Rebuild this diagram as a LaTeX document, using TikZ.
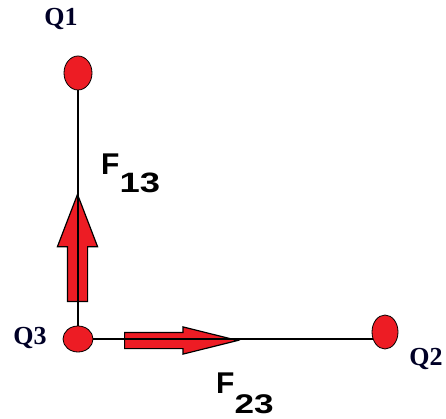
\documentclass[tikz,border=0pt]{standalone}
\usepackage{fontspec}
\setmainfont{Liberation Serif}
\newfontfamily\forcefont{Liberation Sans}
\usetikzlibrary{shapes.geometric, shapes.arrows, positioning}

\definecolor{chargered}{RGB}{237,28,36}

\begin{document}
\begin{tikzpicture}[
    x=1pt, y=-1pt,
    charge/.style={ellipse, draw=black, line width=0.8pt, fill=chargered, inner sep=0pt},
    qlabel/.style={font=\fontsize{26}{26}\selectfont\bfseries, text=black!85!blue, inner sep=0pt},
    flabel/.style={font=\forcefont\fontsize{30}{30}\selectfont\bfseries, inner sep=0pt, anchor=base west},
    force/.style={single arrow, draw=black, line width=1.2pt, fill=chargered, inner xsep=0pt, single arrow head indent=0pt, anchor=tail},
    wire/.style={line width=2.2pt}
]
\useasboundingbox (0,0) rectangle (446,419);

% Force arrows
\node[force, inner ysep=9.5pt, single arrow head extend=10pt, single arrow tip angle=42,
      minimum height=107pt, rotate=90] (f13arrow) at (77.5,302) {};
\node[force, inner ysep=7.5pt, single arrow head extend=5.5pt, single arrow tip angle=28,
      minimum height=113pt] (f23arrow) at (124,340.5) {};

% Charges
\node[charge, minimum width=28pt, minimum height=34pt] (q1) at (78,73) {};
\node[charge, minimum width=30pt, minimum height=26pt] (q3) at (78,339) {};
\node[charge, minimum width=26pt, minimum height=34pt] (q2) at (385,332) {};

% Labels
\node[qlabel] (lq1) at (61,19) {Q1};
\node[qlabel] (lq3) at (30,338) {Q3};
\node[qlabel] (lq2) at (426,359) {Q2};
\node[flabel] (f13) at (101,175) {F\raisebox{-18pt}{\fontsize{28}{28}\selectfont\scalebox{1.3}[1]{13}}};
\node[flabel] (f23) at (216,393) {F\raisebox{-20pt}{\fontsize{27}{27}\selectfont\scalebox{1.3}[1]{23}}};

% Lines
\draw[wire] (q1.south) -- (q3.north);
\draw[wire] (q3.east) -- (q3.east -| q2.215);

\end{tikzpicture}
\end{document}
